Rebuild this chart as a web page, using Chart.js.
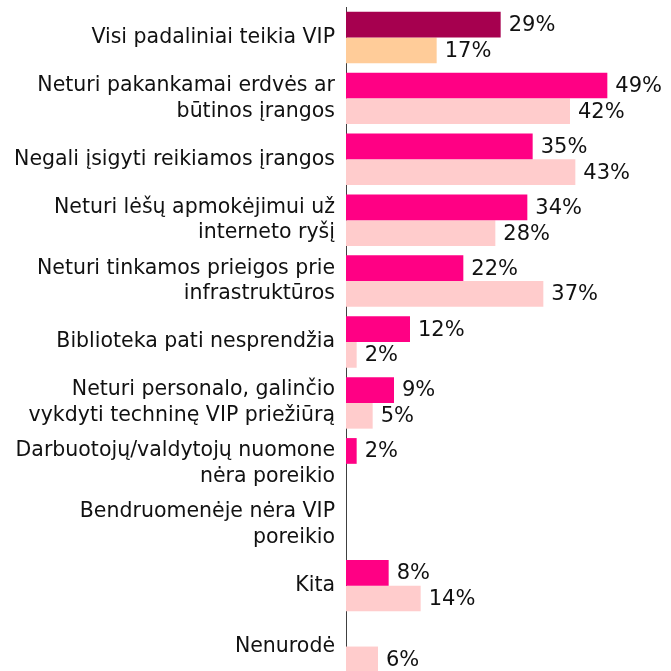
<!DOCTYPE html>
<html>
<head>
<meta charset="utf-8">
<script src="https://cdn.jsdelivr.net/npm/chart.js@4/dist/chart.umd.min.js"></script>
<style>
  html, body { margin: 0; padding: 0; background: #fff; overflow: hidden; }
  #wrap { position: relative; width: 671px; height: 677px; }
</style>
</head>
<body>
<div id="wrap"><canvas id="c"></canvas></div>
<script>
const categories = [
  ["Visi padaliniai teikia VIP"],
  ["Neturi pakankamai erdvės ar", "būtinos įrangos"],
  ["Negali įsigyti reikiamos įrangos"],
  ["Neturi lėšų apmokėjimui už", "interneto ryšį"],
  ["Neturi tinkamos prieigos prie", "infrastruktūros"],
  ["Biblioteka pati nesprendžia"],
  ["Neturi personalo, galinčio", "vykdyti techninę VIP priežiūrą"],
  ["Darbuotojų/valdytojų nuomone", "nėra poreikio"],
  ["Bendruomenėje nėra VIP", "poreikio"],
  ["Kita"],
  ["Nenurodė"]
];
const seriesA = [29, 49, 35, 34, 22, 12, 9, 2, null, 8, null];
const seriesB = [17, 42, 43, 28, 37, 2, 5, null, null, 14, 6];
const colorsA = ["#A6004F", "#FF0084", "#FF0084", "#FF0084", "#FF0084", "#FF0084", "#FF0084", "#FF0084", "#FF0084", "#FF0084", "#FF0084"];
const colorsB = ["#FFCC99", "#FFCCCC", "#FFCCCC", "#FFCCCC", "#FFCCCC", "#FFCCCC", "#FFCCCC", "#FFCCCC", "#FFCCCC", "#FFCCCC", "#FFCCCC"];

const FONT = "'DejaVu Sans', Verdana, sans-serif";

const valueLabels = {
  id: 'valueLabels',
  afterDatasetsDraw(chart) {
    const ctx = chart.ctx;
    ctx.save();
    ctx.font = "21px " + FONT;
    ctx.fillStyle = "#111111";
    ctx.textAlign = "left";
    ctx.textBaseline = "middle";
    chart.data.datasets.forEach((ds, di) => {
      const meta = chart.getDatasetMeta(di);
      meta.data.forEach((el, i) => {
        const v = ds.data[i];
        if (v === null || v === undefined) return;
        ctx.fillText(v + "%", el.x + 8, el.y + 1);
      });
    });
    ctx.restore();
  }
};

new Chart(document.getElementById('c'), {
  type: 'bar',
  data: {
    labels: categories,
    datasets: [
      { data: seriesA, backgroundColor: colorsA, borderWidth: 0 },
      { data: seriesB, backgroundColor: colorsB, borderWidth: 0 }
    ]
  },
  options: {
    indexAxis: 'y',
    responsive: true,
    maintainAspectRatio: false,
    animation: false,
    datasets: { bar: { categoryPercentage: 0.845, barPercentage: 1.0 } },
    layout: { padding: { top: 7, right: 5, left: 0, bottom: 0 } },
    plugins: { legend: { display: false }, tooltip: { enabled: false } },
    scales: {
      x: {
        display: false,
        min: 0,
        max: 60
      },
      y: {
        afterFit(scale) {
          scale.width = 346;
          scale.paddingTop = 0;
          scale.paddingBottom = 0;
        },
        grid: { display: false, drawTicks: false },
        border: { display: true, color: '#404040', width: 1 },
        ticks: {
          padding: 11,
          color: '#111111',
          font: { family: FONT, size: 20.5, lineHeight: 1.25 },
          autoSkip: false
        }
      }
    }
  },
  plugins: [valueLabels]
});
</script>
</body>
</html>
